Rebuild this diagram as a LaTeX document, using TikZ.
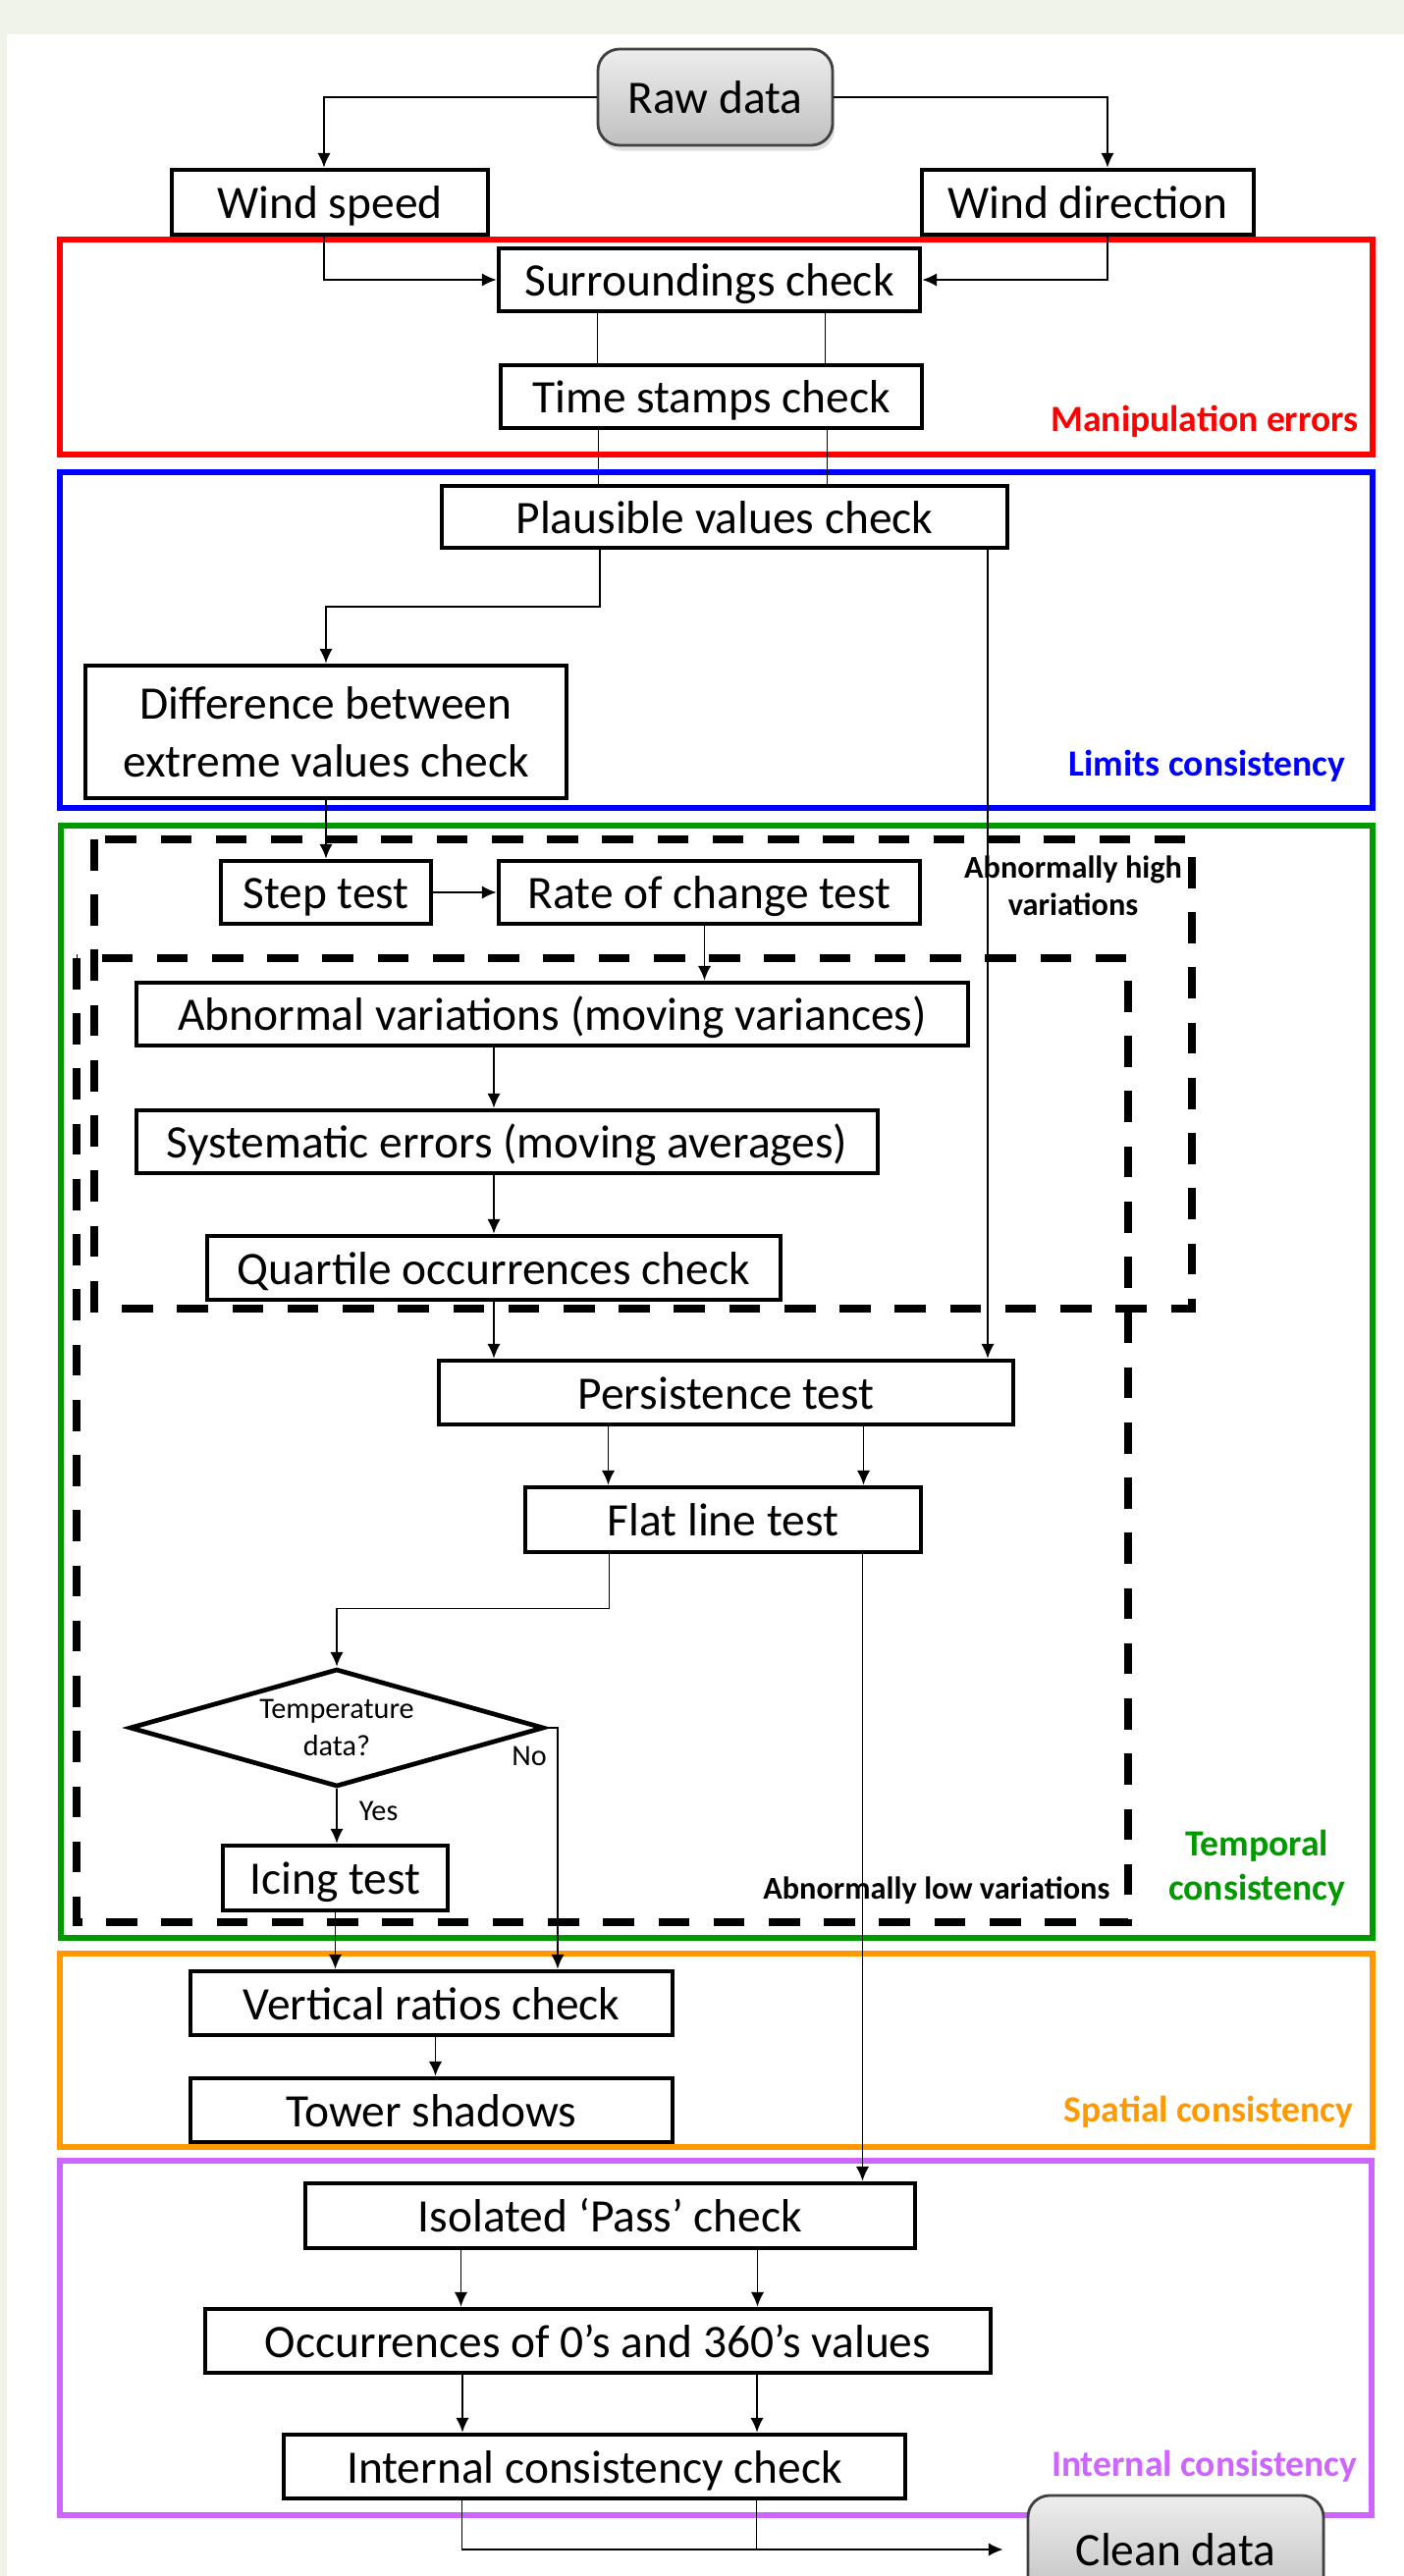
\documentclass[tikz,border=0pt]{standalone}
\usepackage{fontspec}
\setmainfont{Carlito}
\usetikzlibrary{shapes.geometric,arrows.meta,shadows}
\definecolor{bandgray}{RGB}{240,243,233}
\definecolor{framegreen}{RGB}{0,153,0}
\definecolor{frameorange}{RGB}{255,153,0}
\definecolor{framepurple}{RGB}{204,102,255}
\newcommand{\flowfont}{\fontsize{13.5}{16.8}\selectfont}
\newcommand{\smallflowfont}{\fontsize{8.6}{10.8}\selectfont}
\newcommand{\tagfont}{\fontsize{10.7}{12.8}\selectfont\bfseries}
\newcommand{\notefont}{\fontsize{9.2}{10.8}\selectfont\bfseries}
\begin{document}
\begin{tikzpicture}[
  boxbase/.style={draw, line width=1.35pt, fill=white, inner sep=0pt, font=\flowfont, align=center},
  box/.style={boxbase, text height=11pt, text depth=1.4pt},
  terminal/.style={draw=black!75, line width=0.8pt, rounded corners=2.2mm, top color=black!7, bottom color=black!25,
    drop shadow={opacity=0.25, shadow xshift=0.6pt, shadow yshift=-1.6pt}, inner sep=0pt, font=\flowfont,
    text height=11pt, text depth=1.4pt},
  frame/.style={line width=1.6pt},
  dashframe/.style={line width=2.1pt, dash pattern=on 9pt off 7pt},
  tag/.style={font=\tagfont, anchor=east, inner sep=0pt},
  note/.style={font=\notefont, inner sep=0pt, align=center},
  small/.style={font=\smallflowfont, inner sep=0pt},
  flow/.style={line width=0.5pt, -{Latex[length=4.2pt,width=3.8pt]}},
  link/.style={line width=0.5pt}]
\useasboundingbox (0,0) rectangle (14.3,-26.24);
\fill[bandgray] (0,0) rectangle (14.3,-26.24);
\fill[white] (0.07,-0.35) rectangle (14.3,-26.24);

\draw[frame, red] (0.61,-2.44) rectangle (13.98,-4.63);
\draw[frame, blue] (0.61,-4.81) rectangle (13.98,-8.23);
\draw[frame, framegreen] (0.62,-8.41) rectangle (13.98,-19.74);
\draw[frame, frameorange] (0.61,-19.90) rectangle (13.98,-21.87);
\draw[frame, framepurple] (0.61,-22.01) rectangle (13.97,-25.62);
\draw[dashframe] (0.96,-8.55) rectangle (12.14,-13.33);
\draw[dashframe] (0.78,-9.76) rectangle (11.49,-19.58);

\node[tag, red] (manip) at (13.84,-4.29) {Manipulation errors};
\node[tag, blue] (limits) at (13.71,-7.80) {Limits consistency};
\node[tag, framegreen, anchor=center, align=center] (temporal) at (12.80,-19.03) {Temporal\\consistency};
\node[tag, frameorange] (spatial) at (13.79,-21.51) {Spatial consistency};
\node[tag, framepurple] (internaltag) at (13.83,-25.12) {Internal consistency};
\node[note] (highvar) at (10.93,-9.02) {Abnormally high\\variations};
\node[note, anchor=east] (lowvar) at (11.31,-19.26) {Abnormally low variations};

\node[terminal, minimum width=2.39cm, minimum height=0.98cm] (raw) at (7.285,-0.99) {Raw data};
\node[box, minimum width=3.22cm, minimum height=0.66cm] (speed) at (3.36,-2.06) {Wind speed};
\node[box, minimum width=3.38cm, minimum height=0.66cm] (dir) at (11.08,-2.06) {Wind direction};
\node[box, minimum width=4.29cm, minimum height=0.64cm] (surr) at (7.225,-2.85) {Surroundings check};
\node[box, minimum width=4.29cm, minimum height=0.64cm] (stamps) at (7.245,-4.04) {Time stamps check};
\node[box, minimum width=5.76cm, minimum height=0.63cm] (plaus) at (7.38,-5.265) {Plausible values check};
\node[boxbase, minimum width=4.90cm, minimum height=1.35cm] (diff) at (3.32,-7.455) {Difference between\\extreme values check};
\node[box, minimum width=2.14cm, minimum height=0.64cm] (steptest) at (3.32,-9.09) {Step test};
\node[box, minimum width=4.29cm, minimum height=0.64cm] (rate) at (7.225,-9.09) {Rate of change test};
\node[box, minimum width=8.47cm, minimum height=0.64cm] (abnormal) at (5.625,-10.33) {Abnormal variations (moving variances)};
\node[box, minimum width=7.55cm, minimum height=0.64cm] (syst) at (5.165,-11.63) {Systematic errors (moving averages)};
\node[box, minimum width=5.84cm, minimum height=0.65cm] (quart) at (5.03,-12.915) {Quartile occurrences check};
\node[box, minimum width=5.85cm, minimum height=0.65cm] (persist) at (7.395,-14.185) {Persistence test};
\node[box, minimum width=4.03cm, minimum height=0.66cm] (flat) at (7.365,-15.48) {Flat line test};
\node[diamond, draw, line width=1.35pt, fill=white, aspect=3.5, inner sep=0pt, minimum width=4.22cm,
  minimum height=1.2cm, font=\smallflowfont, align=center] (temp) at (3.43,-17.60) {Temperature\\data?};
\node[box, minimum width=2.29cm, minimum height=0.66cm] (icing) at (3.415,-19.13) {Icing test};
\node[box, minimum width=4.91cm, minimum height=0.65cm] (ratios) at (4.395,-20.405) {Vertical ratios check};
\node[box, minimum width=4.91cm, minimum height=0.65cm] (tower) at (4.395,-21.495) {Tower shadows};
\node[box, minimum width=6.21cm, minimum height=0.66cm] (isolated) at (6.215,-22.57) {Isolated ‘Pass’ check};
\node[box, minimum width=8.00cm, minimum height=0.65cm] (occ) at (6.09,-23.845) {Occurrences of 0’s and 360’s values};
\node[box, minimum width=6.33cm, minimum height=0.65cm] (internal) at (6.055,-25.125) {Internal consistency check};
\node[terminal, minimum width=3.01cm, minimum height=1.10cm] (clean) at (11.975,-25.97) {Clean data};
\coordinate (nobend) at (5.68,-17.60);
\node[small] (nolabel) at (5.39,-17.89) {No};

\draw[flow] (raw) -| ([xshift=-0.6mm]speed.north);
\draw[flow] (raw) -| ([xshift=2mm]dir.north);
\draw[flow] ([xshift=-0.6mm]speed.south) |- (surr);
\draw[flow] ([xshift=2mm]dir.south) |- (surr);
\draw[link] ([xshift=-11.4mm]surr.south) -- ([xshift=-11.4mm]surr.south |- stamps.north);
\draw[link] ([xshift=11.8mm]surr.south) -- ([xshift=11.8mm]surr.south |- stamps.north);
\draw[link] ([xshift=-11.5mm]stamps.south) -- ([xshift=-11.5mm]stamps.south |- plaus.north);
\draw[link] ([xshift=11.8mm]stamps.south) -- ([xshift=11.8mm]stamps.south |- plaus.north);
\draw[flow] ([xshift=-12.7mm]plaus.south) -- ++(0,-5.8mm) -| (diff);
\draw[flow] ([xshift=26.8mm]plaus.south) -- ([xshift=26.8mm]plaus.south |- persist.north);
\draw[flow] (diff) -- (steptest);
\draw[flow] (steptest) -- (rate);
\draw[flow] ([xshift=-0.5mm]rate.south) -- ([xshift=-0.5mm]rate.south |- abnormal.north);
\draw[flow] (abnormal.south -| quart) -- (syst.north -| quart);
\draw[flow] (syst.south -| quart) -- (quart);
\draw[flow] (quart) -- (quart |- persist.north);
\draw[flow] ([xshift=-12mm]persist.south) -- ([xshift=-12mm]persist.south |- flat.north);
\draw[flow] ([xshift=14mm]persist.south) -- ([xshift=14mm]persist.south |- flat.north);
\draw[flow] ([xshift=-11.6mm]flat.south) -- ++(0,-5.5mm) -| (temp);
\draw[flow] ([xshift=14.2mm]flat.south) -- ([xshift=14.2mm]flat.south |- isolated.north);
\draw[flow] (temp.south) -- node[small, right=2.2mm, pos=0.4] (yes) {Yes} (temp.south |- icing.north);
\draw[flow] (temp.east) -- (nobend) -- (nobend |- ratios.north);
\draw[flow] (icing) -- (icing |- ratios.north);
\draw[flow] ([xshift=0.4mm]ratios.south) -- ([xshift=0.4mm]tower.north);
\draw[flow] ([xshift=-15.2mm]isolated.south) -- ([xshift=-15.2mm]isolated.south |- occ.north);
\draw[flow] ([xshift=15mm]isolated.south) -- ([xshift=15mm]isolated.south |- occ.north);
\draw[flow] ([xshift=-13.8mm]occ.south) -- ([xshift=-13.8mm]occ.south |- internal.north);
\draw[flow] ([xshift=16.2mm]occ.south) -- ([xshift=16.2mm]occ.south |- internal.north);
\draw[flow] ([xshift=-13.5mm]internal.south) |- ([xshift=-2.4mm]clean.west);
\draw[link] ([xshift=16.5mm]internal.south) -- ([xshift=16.5mm]internal.south |- clean.west);
\end{tikzpicture}
\end{document}
